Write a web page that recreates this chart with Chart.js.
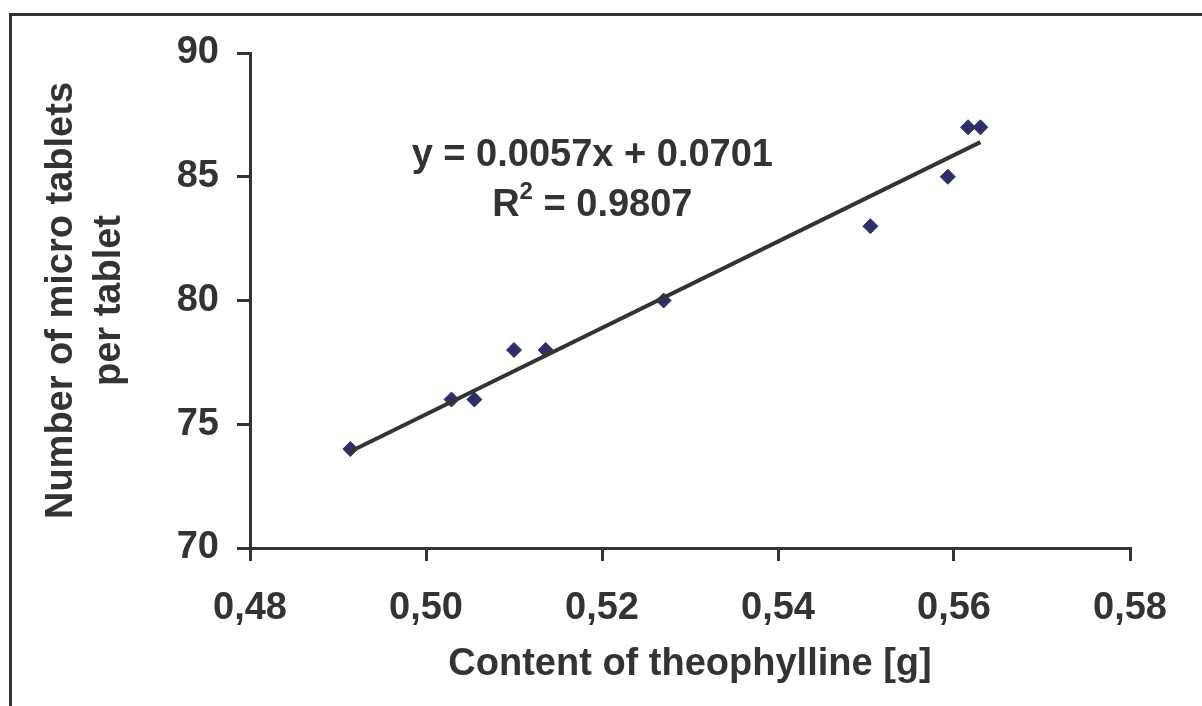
<!DOCTYPE html>
<html>
<head>
<meta charset="utf-8">
<script src="https://cdn.jsdelivr.net/npm/chart.js@4/dist/chart.umd.min.js"></script>
<style>
  html, body { margin: 0; padding: 0; background: #fff; overflow: hidden; }
  #wrap { width: 1202px; height: 706px; position: relative; }
</style>
</head>
<body>
<div id="wrap"><canvas id="scatterChart" width="1202" height="706"></canvas></div>
<script>
// theophylline content [g] vs number of micro tablets
const contentValues = [0.4914, 0.5029, 0.5055, 0.5100, 0.5136, 0.5270, 0.5505, 0.5593, 0.5616, 0.5630];
const tabletCounts = [74, 76, 76, 78, 78, 80, 83, 85, 87, 87];

// trend line end points
const trendX = [0.4914, 0.5630];
const trendY = [73.9, 86.4];

const xTickLabels = ['0,48', '0,50', '0,52', '0,54', '0,56', '0,58'];
const yTickLabels = ['70', '75', '80', '85', '90'];

const equationLines = ['y = 0.0057x + 0.0701', '= 0.9807'];

const ink = '#333333';
const fontFamily = "'Liberation Sans', Arial, sans-serif";
const bigFont = 38;

Chart.defaults.font.family = fontFamily;
Chart.defaults.color = ink;

// outer frame + equation text
const decorations = {
    id: 'decorations',
    afterDraw(chart) {
        const ctx = chart.ctx;
        const xs = chart.scales.x;
        const ys = chart.scales.y;
        ctx.save();
        ctx.strokeStyle = ink;
        ctx.lineWidth = 3;
        ctx.strokeRect(10.5, 14.5, 1400, 1000);

        const mainFont = 'bold ' + bigFont + 'px ' + fontFamily;
        const supFont = 'bold 24px ' + fontFamily;
        ctx.fillStyle = ink;
        ctx.font = mainFont;
        ctx.textBaseline = 'middle';
        ctx.textAlign = 'center';
        const cx = xs.getPixelForValue(0.5189);
        ctx.fillText(equationLines[0], cx, ys.getPixelForValue(85.85));

        // second line: R² = ...
        const y2 = ys.getPixelForValue(83.85);
        const rW = ctx.measureText('R').width;
        ctx.font = supFont;
        const supW = ctx.measureText('2').width;
        ctx.font = mainFont;
        const restW = ctx.measureText(' ' + equationLines[1]).width;
        const x0 = cx - (rW + supW + restW) / 2;
        ctx.textAlign = 'left';
        ctx.fillText('R', x0, y2);
        ctx.font = supFont;
        ctx.fillText('2', x0 + rW, y2 - 13);
        ctx.font = mainFont;
        ctx.fillText(' ' + equationLines[1], x0 + rW + supW, y2);
        ctx.restore();
    }
};

const ctx = document.getElementById('scatterChart');

new Chart(ctx, {
    type: 'scatter',
    data: {
        datasets: [
            {
                label: 'measured',
                data: contentValues.map((v, i) => ({ x: v, y: tabletCounts[i] })),
                pointStyle: 'rectRot',
                pointRadius: 7.5,
                pointHoverRadius: 7.5,
                backgroundColor: '#2e2e68',
                borderColor: '#2e2e68',
                borderWidth: 1,
                order: 2
            },
            {
                label: 'trend',
                data: trendX.map((v, i) => ({ x: v, y: trendY[i] })),
                showLine: true,
                pointRadius: 0,
                borderColor: ink,
                borderWidth: 4,
                order: 1
            }
        ]
    },
    options: {
        responsive: false,
        animation: false,
        events: [],
        layout: { padding: { left: 10, right: 72, top: 53, bottom: 0 } },
        plugins: {
            legend: { display: false },
            tooltip: { enabled: false }
        },
        scales: {
            x: {
                type: 'linear',
                min: 0.48,
                max: 0.58,
                afterFit(scale) { scale.height = 158; },
                afterBuildTicks(scale) {
                    scale.ticks = xTickLabels.map((t, i) => ({ value: 0.48 + i * 0.02 }));
                },
                ticks: {
                    padding: 25,
                    color: ink,
                    font: { size: bigFont, weight: 'bold' },
                    maxRotation: 0,
                    callback: (v, i) => xTickLabels[i]
                },
                grid: {
                    drawOnChartArea: false,
                    tickLength: 13,
                    color: ink,
                    lineWidth: 3
                },
                border: { display: true, color: ink, width: 3 },
                title: {
                    display: true,
                    text: 'Content of theophylline [g]',
                    color: ink,
                    font: { size: bigFont, weight: 'bold' },
                    padding: { top: 0, bottom: 19 }
                }
            },
            y: {
                type: 'linear',
                min: 70,
                max: 90,
                afterFit(scale) { scale.width = 240; },
                afterBuildTicks(scale) {
                    scale.ticks = yTickLabels.map(t => ({ value: Number(t) }));
                },
                ticks: {
                    padding: 18,
                    color: ink,
                    font: { size: bigFont, weight: 'bold' },
                    callback: (v, i) => yTickLabels[i]
                },
                grid: {
                    drawOnChartArea: false,
                    tickLength: 13,
                    color: ink,
                    lineWidth: 3
                },
                border: { display: true, color: ink, width: 3 },
                title: {
                    display: true,
                    text: ['Number of micro tablets', 'per tablet'],
                    color: ink,
                    font: { size: bigFont, weight: 'bold', lineHeight: 1.25 },
                    padding: { top: 28, bottom: 0 }
                }
            }
        }
    },
    plugins: [decorations]
});
</script>
</body>
</html>
